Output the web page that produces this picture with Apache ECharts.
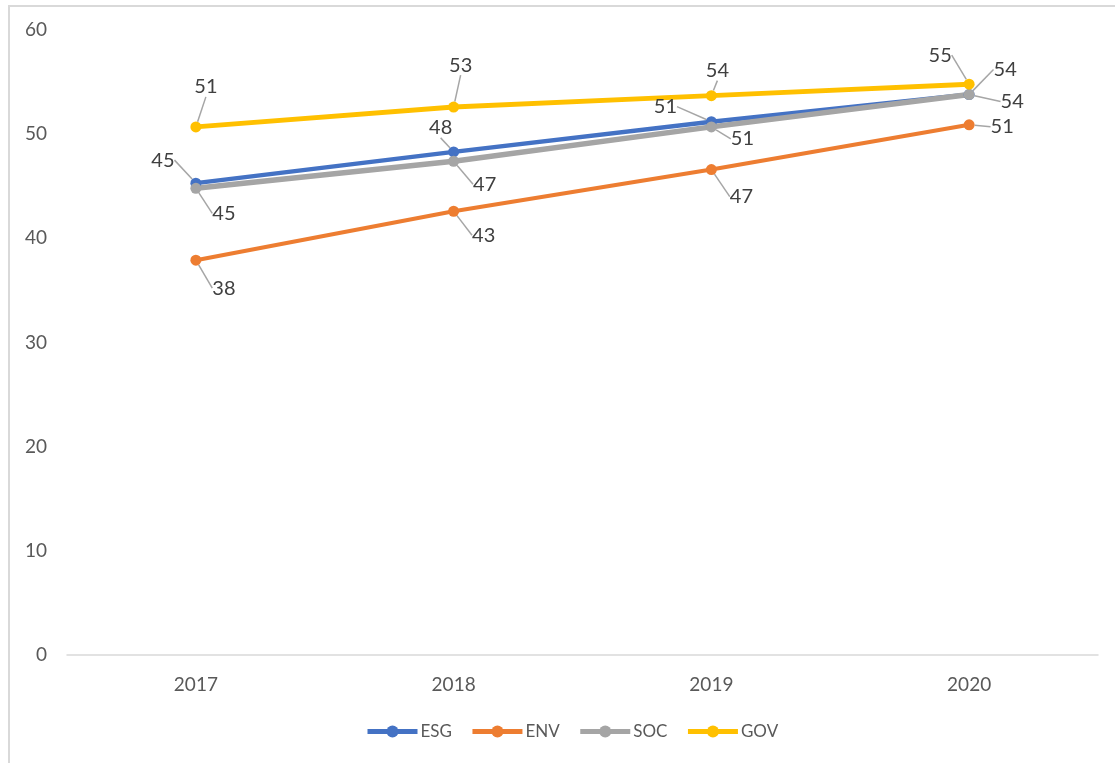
<!DOCTYPE html>
<html>
<head>
<meta charset="utf-8">
<script src="https://cdn.jsdelivr.net/npm/echarts@6/dist/echarts.min.js"></script>
<style>
html,body{margin:0;padding:0;background:#fff;}
#frame{position:absolute;left:8px;top:5px;width:1200px;height:900px;border-left:2px solid #d9d9d9;border-top:2px solid #d9d9d9;}
#chart{position:absolute;left:0;top:0;width:1115px;height:763px;}
</style>
</head>
<body>
<div id="frame"></div>
<div id="chart"></div>
<script>
const categories = ['2017', '2018', '2019', '2020'];
const esg = [45.3, 48.3, 51.2, 53.8];
const env = [37.9, 42.6, 46.6, 50.9];
const soc = [44.8, 47.4, 50.7, 53.8];
const gov = [50.7, 52.6, 53.7, 54.8];
const yTicks = [0, 10, 20, 30, 40, 50, 60];

const labelOffsets = {
  ESG: [[-33, -23], [-13, -24], [-46, -15], [36, -25]],
  ENV: [[28, 28], [30, 24], [30, 27], [33, 2]],
  SOC: [[28, 25], [31, 23], [31, 12], [43, 7]],
  GOV: [[10, -40], [7, -42], [6, -25], [-29, -29]]
};

const chart = echarts.init(document.getElementById('chart'));
const font = 'Lato, "Open Sans", sans-serif';

function mk(name, data, color, width) {
  const offs = labelOffsets[name];
  return {
    name: name,
    type: 'line',
    data: data,
    symbol: 'circle',
    symbolSize: 11,
    lineStyle: { color: color, width: width },
    itemStyle: { color: color },
    label: {
      show: true,
      position: 'inside',
      color: '#404040',
      fontSize: 20,
      fontFamily: font,
      formatter: p => Math.round(p.value)
    },
    labelLine: {
      show: true,
      lineStyle: { color: '#a6a6a6', width: 1.5 }
    },
    labelLayout: function (params) {
      const o = offs[params.dataIndex];
      return { dx: o[0], dy: o[1] };
    }
  };
}

chart.setOption({
  animation: false,
  textStyle: { fontFamily: font },
  grid: { left: 67, right: 17, top: 30, bottom: 108 },
  xAxis: {
    type: 'category',
    data: categories,
    boundaryGap: true,
    axisLine: { lineStyle: { color: '#d9d9d9', width: 1.5 } },
    axisTick: { show: false },
    axisLabel: { color: '#595959', fontSize: 19, margin: 20, fontFamily: font }
  },
  yAxis: {
    type: 'value',
    min: yTicks[0],
    max: yTicks[yTicks.length - 1],
    interval: 10,
    axisLine: { show: false },
    axisTick: { show: false },
    splitLine: { show: false },
    axisLabel: { color: '#595959', fontSize: 19, margin: 20, fontFamily: font }
  },
  legend: {
    left: 360,
    top: 718,
    itemWidth: 50,
    itemHeight: 15,
    itemGap: 18,
    lineStyle: { width: 5 },
    textStyle: { color: '#595959', fontSize: 17, fontFamily: font, padding: [0, 0, 0, -2] },
    data: ['ESG', 'ENV', 'SOC', 'GOV']
  },
  series: [
    mk('ESG', esg, '#4472C4', 4.5),
    mk('ENV', env, '#ED7D31', 4),
    mk('SOC', soc, '#A5A5A5', 5.5),
    mk('GOV', gov, '#FFC000', 5)
  ]
});
</script>
</body>
</html>
